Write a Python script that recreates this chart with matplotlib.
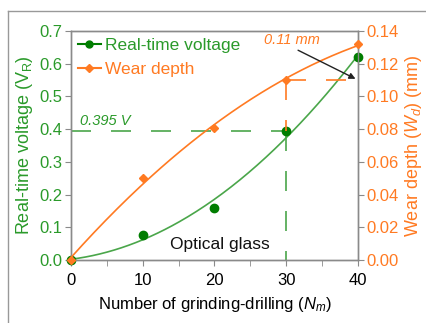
import numpy as np
import matplotlib
matplotlib.use("Agg")
import matplotlib.pyplot as plt
from matplotlib.lines import Line2D

plt.rcParams['font.family'] = ['Liberation Sans', 'DejaVu Sans']
plt.rcParams['mathtext.fontset'] = 'custom'
plt.rcParams['mathtext.rm'] = 'Liberation Sans'
plt.rcParams['mathtext.it'] = 'Liberation Sans:italic'

# data
n_cycles = [0, 10, 20, 30, 40]
voltage = [0.0, 0.075, 0.16, 0.395, 0.62]
wear = [0.0, 0.050, 0.081, 0.110, 0.132]
x_ticks = [0, 10, 20, 30, 40]
v_ticks = [0.0, 0.1, 0.2, 0.3, 0.4, 0.5, 0.6, 0.7]
w_ticks = [0.00, 0.02, 0.04, 0.06, 0.08, 0.10, 0.12, 0.14]

GREEN_TXT = '#2a9a2a'
GREEN_MK = '#007d00'
GREEN_LN = '#4aa64a'
ORANGE = '#ff7a22'
GRAY = '#8a8a8a'

fig = plt.figure(figsize=(4.26, 3.23), dpi=100)
fx, fy = 7.5 / 426, 1 - 10.5 / 323
fig.add_artist(Line2D([fx, fx], [-0.05, fy], transform=fig.transFigure, color='#999999', lw=1.0))
fig.add_artist(Line2D([fx, 1.05], [fy, fy], transform=fig.transFigure, color='#999999', lw=1.0))

ax = fig.add_axes([71/426, 1 - 260/323, (358 - 71)/426, (260 - 31)/323])
ax2 = ax.twinx()

xs = np.linspace(0, 40, 200)
pv = np.polyfit(n_cycles, voltage, 2)
pw = np.polyfit(n_cycles, wear, 2)

# dashed guides
ax.plot([0, 30], [voltage[3], voltage[3]], color=GREEN_LN, lw=1.2, dashes=(12, 12))
ax.plot([30, 30], [voltage[3], 0], color=GREEN_LN, lw=1.2, dashes=(12, 12))
ax2.plot([30, 40], [wear[3], wear[3]], color=ORANGE, lw=1.2, dashes=(12, 12))
ax2.plot([30, 30], [wear[3], voltage[3] / 5], color=ORANGE, lw=1.2, dashes=(12, 12))

ax.plot(xs, np.polyval(pv, xs), color=GREEN_LN, lw=1.2, zorder=3)
ax2.plot(xs, np.polyval(pw, xs), color=ORANGE, lw=1.2, zorder=3)
ax.plot(n_cycles, voltage, 'o', color=GREEN_MK, ms=6, zorder=4, clip_on=False)
ax2.plot(n_cycles, wear, 'D', color=ORANGE, ms=4, zorder=5, clip_on=False)

# legend
h1, = ax.plot([], [], '-o', color=GREEN_MK, ms=5, lw=1.5)
h2, = ax.plot([], [], '-D', color=ORANGE, ms=4, lw=1.5)
leg = ax.legend([h1, h2], ['Real-time voltage', 'Wear depth'], loc='upper left',
                frameon=False, fontsize=12.5, handlelength=1.3, handletextpad=0.25,
                borderaxespad=0.0, labelspacing=0.5, bbox_to_anchor=(0.0, 1.0))
leg.get_texts()[0].set_color(GREEN_TXT)
leg.get_texts()[1].set_color(ORANGE)

ax.set_xlim(0, 40)
ax.set_ylim(0, 0.7)
ax2.set_ylim(0, 0.14)
ax.set_xticks(x_ticks)
ax.set_xticks([5, 15, 25, 35], minor=True)
ax.set_yticks(v_ticks)
ax.set_yticklabels([f'{v:.1f}' for v in v_ticks])
ax2.set_yticks(w_ticks)
ax2.set_yticklabels([f'{v:.2f}' for v in w_ticks])

for a in (ax, ax2):
    for s in a.spines.values():
        s.set_color(GRAY)
        s.set_linewidth(1.0)
ax.tick_params(axis='x', which='both', direction='out', length=4, color=GRAY, labelsize=12, pad=5.5)
ax.tick_params(axis='y', direction='out', length=4, color=GRAY, labelsize=12, labelcolor=GREEN_TXT, pad=2)
ax2.tick_params(axis='y', direction='out', length=4, color=GRAY, labelsize=12, labelcolor=ORANGE, pad=2)

ax.set_xlabel('Number of grinding-drilling ($\\mathit{N_m}$)', fontsize=12, labelpad=5)
ax.set_ylabel('Real-time voltage (V$_\\mathrm{R}$)', fontsize=13, color=GREEN_TXT, labelpad=3)
ax2.set_ylabel('Wear depth ($\\mathit{W_d}$) (mm)', fontsize=13, color=ORANGE, labelpad=3)

ax.text(1.2, 0.405, '0.395 V', fontsize=10.5, style='italic', color=GREEN_TXT, ha='left', va='bottom')
ax.text(30.8, 0.673, '0.11 mm', fontsize=10.5, style='italic', color=ORANGE, ha='center', va='center')
ax2.annotate('', xy=(40, wear[3]), xytext=(31.3, 0.129),
             arrowprops=dict(arrowstyle='-|>', color='#222222', lw=1.0, mutation_scale=9))
ax.text(20.8, 0.046, 'Optical glass', fontsize=12.5, color='#111111', ha='center', va='center')

fig.savefig('out.png', dpi=100)
